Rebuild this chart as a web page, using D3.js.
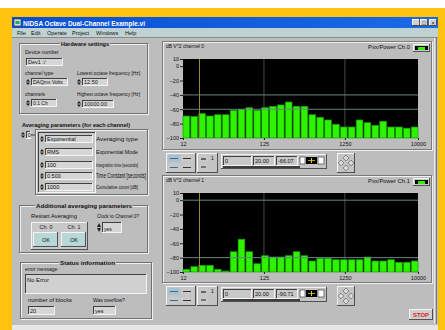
<!DOCTYPE html>
<html><head><meta charset="utf-8">
<script src="https://cdn.jsdelivr.net/npm/d3@7"></script>
<style>body{margin:0;background:#fff}svg{display:block;font-family:"Liberation Sans",Arial,sans-serif}</style>
</head><body><svg id="c" width="445" height="330"></svg>
<script>
// ---------- data ----------
const bands = ["12.5","16","20","25","31.5","40","50","63","80","100","125","160","200","250","315","400","500","630","800","1000","1250","1600","2000","2500","3150","4000","5000","6300","8000","10000"];
const ch0Power = [-69.4,-70,-66.1,-69.4,-67.6,-67.6,-61.4,-60,-57.8,-61.4,-57.8,-55.9,-54,-49.9,-55.9,-55.9,-67.6,-71.2,-74.9,-80.9,-84.7,-84.7,-74.9,-78.7,-82.3,-76.7,-84.7,-84.7,-86.4,-84.7];
const ch1Power = [-96.2,-92.6,-90.7,-90.7,-96.2,-98.6,-71.8,-54.4,-71.8,-88.5,-77.3,-79.1,-79.1,-77.3,-71.8,-77.3,-84.7,-80.9,-80.9,-82.9,-82.9,-82.9,-82.9,-79.1,-84.7,-84.7,-82.9,-86.5,-86.5,-84.7];
const yTicks = [10,0,-20,-40,-60,-80,-100];
const yDomain = [-100,10];
const xTicks = [12.5,125,1250,10000];
const xTickLabels = ["12","125","1250","10000"];
const cursorFreq = 20;
const ch0Lines = [-40,-60];
const ch1Lines = [0,-80];
const ch0Cursor = ["0","20.00","-66.07"];
const ch1Cursor = ["0","20.00","-90.71"];
const menuItems = ["File","Edit","Operate","Project","Windows","Help"];
const avgRows = [["Exponential","Averaging type"],["RMS","Exponential Mode"],["100","Integration time [seconds]"],["0.500","Time Constant [seconds]"],["1000","Cumulative count [dB]"]];

// ---------- helpers ----------
const svg = d3.select("#c");
const GRAY = "#bdbdbd";
function R(x,y,w,h,fill,stroke,sw){const r=svg.append("rect").attr("x",x).attr("y",y).attr("width",w).attr("height",h).attr("fill",fill||"none");if(stroke)r.attr("stroke",stroke).attr("stroke-width",sw||1);return r;}
function L(x1,y1,x2,y2,c,w){return svg.append("line").attr("x1",x1).attr("y1",y1).attr("x2",x2).attr("y2",y2).attr("stroke",c).attr("stroke-width",w||1);}
function T(x,y,s,o){o=o||{};const e=svg.append("text").attr("x",x).attr("y",y).text(s).attr("font-size",o.size||5.5).attr("fill",o.fill||"#111");if(o.bold)e.attr("font-weight","bold");if(o.anchor)e.attr("text-anchor",o.anchor);if(o.w)e.attr("textLength",o.w).attr("lengthAdjust","spacingAndGlyphs");return e;}
function sunken(x,y,w,h,fill){R(x,y,w,h,fill||"#d6d6d6");L(x,y+0.5,x+w,y+0.5,"#404040");L(x+0.5,y,x+0.5,y+h,"#404040");L(x,y+h-0.5,x+w,y+h-0.5,"#f4f4f4");L(x+w-0.5,y,x+w-0.5,y+h,"#f4f4f4");}
function raised(x,y,w,h,fill){R(x,y,w,h,fill||GRAY);L(x,y+0.5,x+w,y+0.5,"#f4f4f4");L(x+0.5,y,x+0.5,y+h,"#f4f4f4");L(x,y+h-0.5,x+w,y+h-0.5,"#505050");L(x+w-0.5,y,x+w-0.5,y+h,"#505050");}
function spinner(x,y,h){
  svg.append("path").attr("d",`M${x} ${y+h/2-0.5} L${x+2} ${y+1} L${x+4} ${y+h/2-0.5} Z`).attr("fill","#222");
  svg.append("path").attr("d",`M${x} ${y+h/2+0.5} L${x+2} ${y+h-1} L${x+4} ${y+h/2+0.5} Z`).attr("fill","#222");
}
function ctrl(x,y,w,h,txt,spin,size){
  let bx=x; if(spin){spinner(x,y,h);bx=x+5;}
  sunken(bx,y,w-(bx-x),h);
  T(bx+2,y+h-2,txt,{size:size||5.5});
}
function groupBox(x,y,w,h,title,tx,tw){
  R(x+0.5,y+0.5,w,h,"none","#f0f0f0");
  R(x-0.5,y-0.5,w,h,"none","#707070");
  if(title){R(tx-1,y-4,tw+2,7,GRAY);T(tx,y+2,title,{bold:true,size:5.8,w:tw});}
}

// ---------- frame ----------
R(0,0,445,330,"#ffffff");
R(0,8,445,322,"#ffc20e");
R(12,17,426,308,GRAY);
R(12,325,426,5,"#e6e6e6");
const g=svg.append("defs").append("linearGradient").attr("id","tb");
g.append("stop").attr("offset","0").attr("stop-color","#0a4fd2");
g.append("stop").attr("offset","1").attr("stop-color","#1a6ae6");
R(12,17,426,11,"url(#tb)");
R(14,19,7,7,"#d8d8d8","#333",0.6);R(15.5,21,4,3,"#2a6");
T(23,25.8,"NIDSA Octave Dual-Channel Example.vi",{fill:"#fff",bold:true,size:6.6,w:122});
[412,420,429].forEach((bx,i)=>{raised(bx,19,8,7,"#d0d0d0");T(bx+4,25,["_","□","×"][i],{anchor:"middle",size:5.5});});
R(12,28,426,9,"#bfd1d1");
[17,31,47,72,96,125].forEach((mx,i)=>T(mx,35,menuItems[i],{size:5.5}));
L(12,37.5,438,37.5,"#8a8a8a");
L(434.5,38,434.5,324,"#ececec");L(436.5,38,436.5,324,"#7a7a7a");

// ---------- hardware settings ----------
groupBox(20,44,128,70,"Hardware settings",61,48);
T(25,54,"Device number",{size:5});
ctrl(26,58,37,8,"Dev1 :/");
T(25,75,"channel type",{size:5});
ctrl(26,78,42,8,"DAQmx Volts",true,5);
T(77,75,"Lowest octave frequency [Hz]",{size:5,w:63});
ctrl(77,78,31,8,"12.50",true);
T(25,96,"channels",{size:5});
ctrl(26,99,31,8,"0:1 Ch",true,5);
T(77,96,"Highest octave frequency [Hz]",{size:5,w:63});
ctrl(77,100,37,8,"10000.00",true);

// ---------- averaging parameters ----------
T(22,127,"Averaging parameters (for each channel)",{bold:true,size:5.8,w:108});
ctrl(21,131,10,8,"0",true);
L(31,135,37,135,"#404040");
groupBox(36,130,112,65);
sunken(38,132,58,61,"#c6c6c6");
const rowY=[135,148,161,172,183];
avgRows.forEach((r,i)=>{
  ctrl(40,rowY[i],53,8,r[0],true);
  const big = i===3;
  T(96,rowY[i]+6,r[1],{size:big?6.4:4.8,w:big?50:42});
});

// ---------- additional averaging ----------
groupBox(20,206,128,47,"Additional averaging parameters",36,96);
T(31,218,"Restart Averaging",{size:5.2,w:46});
raised(31,222,57,28,"#c8c8c8");
[[32,"Ch. 0"],[60,"Ch. 1"]].forEach(([bx,lab])=>{
  T(bx+14,229,lab,{anchor:"middle",size:5.4});
  raised(bx+1,232,25,15,"#b8d8d8");
  T(bx+14,242,"OK",{anchor:"middle",size:5.6});
});
T(97,218,"Clock to Channel 0?",{size:5.2,w:42});
ctrl(97,222,25,11,"yes",true,5);

// ---------- status information ----------
groupBox(21,263,131,56,"Status information",60,55);
T(25,271,"error message",{size:5});
sunken(25,274,122,20,"#d0d0d0");
T(27,282,"No Error",{size:5.8});
T(28,302,"number of blocks",{size:4.8,w:44});
ctrl(28,306,27,9,"20");
T(93,302,"Was overflow?",{size:4.8,w:32});
ctrl(93,306,23,9,"yes");

// ---------- charts ----------
const x = d3.scaleLog().domain([12.5,10000]).range([183,418]);
const xb = d3.scaleBand().domain(bands).range([183,418]).paddingInner(0.15).paddingOuter(0);

function drawChart(py0, vals, title, legend, hlines, cur, panelY, panelH){
  R(163.5,panelY+0.5,269,panelH,"none","#f0f0f0");
  R(162.5,panelY-0.5,269,panelH,"none","#7a7a7a");
  T(166,panelY+6,title,{size:5,w:38});
  T(410,panelY+7,legend,{size:5,anchor:"end",w:42});
  raised(413,panelY+2,17,8,"#c8c8c8");
  R(415,panelY+4,13,4,"#000");R(418,panelY+5,7,3,"#2ef000");
  const py1 = py0+79;
  const y = d3.scaleLinear().domain(yDomain).range([py1,py0]);
  R(183,py0,235,py1-py0,"#000");
  xTicks.slice(1,3).forEach(f=>L(x(f),py0,x(f),py1,"#3c3c3c",1.2));
  svg.append("g").selectAll("rect").data(vals).join("rect")
    .attr("x",(d,i)=>xb(bands[i])).attr("width",xb.bandwidth())
    .attr("y",d=>y(d)).attr("height",d=>y(yDomain[0])-y(d))
    .attr("fill","#2ef200").attr("stroke","#169a00").attr("stroke-width",0.7);
  hlines.forEach(v=>L(183,y(v),418,y(v),"#6a8484",1));
  L(x(cursorFreq),py0,x(cursorFreq),py1,"#8c8c3a",1);
  const ay=svg.append("g").attr("transform","translate(183,0)").call(d3.axisLeft(y).tickValues(yTicks).tickSize(3).tickPadding(1).tickFormat(d3.format("d")));
  ay.select(".domain").remove();
  ay.selectAll("text").attr("font-size",5.5).attr("fill","#111").attr("font-family","Liberation Sans,Arial");
  ay.selectAll("line").attr("stroke","#222");
  const ax=svg.append("g").attr("transform",`translate(0,${py1})`).call(d3.axisBottom(x).tickValues(xTicks).tickSize(2).tickPadding(2).tickFormat((d,i)=>xTickLabels[i]));
  ax.select(".domain").remove();
  ax.selectAll("text").attr("font-size",5.5).attr("fill","#111").attr("font-family","Liberation Sans,Arial");
  ax.selectAll("line").attr("stroke","#222");
  // palette
  const pY = panelY+panelH+3;
  raised(166,pY,30,20,"#c4c4c4");
  raised(197,pY,21,20,"#c4c4c4");
  [[168,pY+2],[181,pY+2],[168,pY+11],[181,pY+11]].forEach(([ix,iy],k)=>{
    R(ix,iy,12,7,k===0?"#a8c0d0":"#c8c8c8");
    L(ix+2,iy+3.5,ix+10,iy+3.5,k%2?"#333":"#3a6a9a",1);
  });
  R(199,pY+2,9,7,"#c8c8c8");L(201,pY+6,206,pY+6,"#222",1.2);T(211,pY+7,"1",{size:5});
  R(199,pY+11,9,7,"#c8c8c8");L(201,pY+14,206,pY+14,"#222",1);
  // cursor display
  const cY = pY+1;
  raised(221,cY,106,15,"#c4c4c4");
  sunken(223,cY+2,29,10,"#c8c8c8");T(225,cY+9,cur[0],{size:5.5});
  sunken(253,cY+2,22,10,"#c8c8c8");T(255,cY+9,cur[1],{size:5.5});
  sunken(276,cY+2,22,10,"#c8c8c8");T(278,cY+9,cur[2],{size:5.5});
  R(300,cY+3,5,7,"#fff","#222",0.6);R(306,cY+3,11,7,"#000");L(311.5,cY+4,311.5,cY+9,"#e0d000",1);L(308,cY+6.5,315,cY+6.5,"#e0d000",0.8);
  R(318,cY+3,6,7,"#fff","#222",0.6);
  L(223,cY+13,300,cY+13,"#111",1.4);
  // diamond
  raised(337,pY,18,20,"#c4c4c4");
  [[346,pY+5],[341,pY+10],[351,pY+10],[346,pY+15]].forEach(([cx,cy])=>
    svg.append("path").attr("d",`M${cx} ${cy-3} L${cx+3} ${cy} L${cx} ${cy+3} L${cx-3} ${cy} Z`).attr("fill","#d8d8d8").attr("stroke","#555").attr("stroke-width",0.6));
}
drawChart(59, ch0Power, "dB V^2 channel 0", "Pxx/Power Ch.0", ch0Lines, ch0Cursor, 42, 108);
drawChart(193, ch1Power, "dB V^2 channel 1", "Pxx/Power Ch.1", ch1Lines, ch1Cursor, 176, 107);

// STOP button
raised(409,309,24,11,"#cfcfcf");
T(421,317,"STOP",{anchor:"middle",size:6,fill:"#e02020",bold:true});
</script></body></html>
